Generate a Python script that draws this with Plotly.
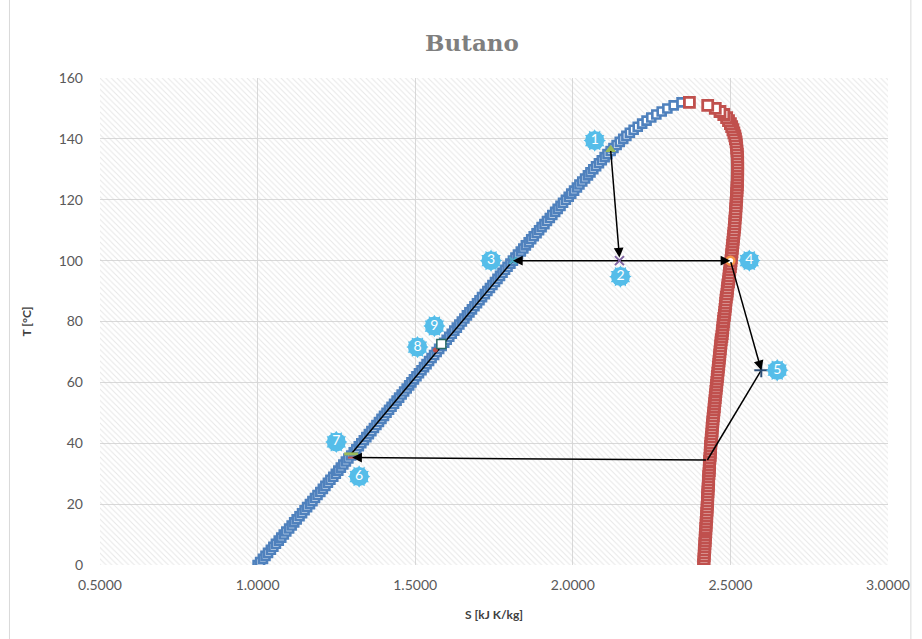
import plotly.graph_objects as go

# ---------------- saturation dome of butane (T in °C, s in kJ/kg K) ----------------
T_SAT = [
    0, 1, 2, 3, 4, 5, 6, 7, 8, 9,
    10, 11, 12, 13, 14, 15, 16, 17, 18, 19,
    20, 21, 22, 23, 24, 25, 26, 27, 28, 29,
    30, 31, 32, 33, 34, 35, 36, 37, 38, 39,
    40, 41, 42, 43, 44, 45, 46, 47, 48, 49,
    50, 51, 52, 53, 54, 55, 56, 57, 58, 59,
    60, 61, 62, 63, 64, 65, 66, 67, 68, 69,
    70, 71, 72, 73, 74, 75, 76, 77, 78, 79,
    80, 81, 82, 83, 84, 85, 86, 87, 88, 89,
    90, 91, 92, 93, 94, 95, 96, 97, 98, 99,
    100, 101, 102, 103, 104, 105, 106, 107, 108, 109,
    110, 111, 112, 113, 114, 115, 116, 117, 118, 119,
    120, 121, 122, 123, 124, 125, 126, 127, 128, 129,
    130, 131, 132, 133, 134, 135, 136, 137, 138, 139,
    140, 141, 142, 143, 144, 145, 146, 147, 148, 149,
    150, 151, 152,
]

S_LIQ = [
    1.000, 1.008, 1.017, 1.025, 1.033, 1.042, 1.050, 1.058, 1.067, 1.075,
    1.083, 1.091, 1.100, 1.108, 1.116, 1.124, 1.133, 1.141, 1.149, 1.157,
    1.166, 1.174, 1.182, 1.190, 1.199, 1.207, 1.215, 1.223, 1.231, 1.240,
    1.248, 1.256, 1.264, 1.272, 1.280, 1.288, 1.297, 1.305, 1.313, 1.321,
    1.329, 1.337, 1.345, 1.353, 1.361, 1.369, 1.377, 1.385, 1.393, 1.401,
    1.409, 1.417, 1.425, 1.433, 1.441, 1.449, 1.457, 1.465, 1.473, 1.481,
    1.488, 1.496, 1.504, 1.512, 1.520, 1.528, 1.536, 1.544, 1.552, 1.560,
    1.568, 1.576, 1.584, 1.592, 1.600, 1.608, 1.616, 1.624, 1.632, 1.640,
    1.648, 1.656, 1.664, 1.672, 1.680, 1.688, 1.696, 1.704, 1.712, 1.721,
    1.729, 1.737, 1.745, 1.753, 1.761, 1.769, 1.777, 1.785, 1.793, 1.802,
    1.810, 1.818, 1.826, 1.835, 1.843, 1.851, 1.860, 1.868, 1.876, 1.885,
    1.893, 1.901, 1.910, 1.918, 1.927, 1.935, 1.944, 1.952, 1.961, 1.969,
    1.978, 1.987, 1.995, 2.004, 2.013, 2.021, 2.030, 2.039, 2.048, 2.056,
    2.065, 2.074, 2.083, 2.092, 2.101, 2.110, 2.120, 2.129, 2.139, 2.149,
    2.160, 2.170, 2.181, 2.193, 2.206, 2.220, 2.234, 2.249, 2.265, 2.282,
    2.300, 2.320, 2.345,
]

S_VAP = [
    2.415, 2.416, 2.416, 2.417, 2.417, 2.418, 2.419, 2.419, 2.420, 2.420,
    2.421, 2.422, 2.422, 2.423, 2.423, 2.424, 2.425, 2.425, 2.426, 2.426,
    2.427, 2.427, 2.428, 2.428, 2.429, 2.429, 2.430, 2.430, 2.431, 2.431,
    2.432, 2.433, 2.433, 2.434, 2.434, 2.435, 2.436, 2.436, 2.437, 2.437,
    2.438, 2.439, 2.440, 2.441, 2.442, 2.442, 2.443, 2.444, 2.445, 2.446,
    2.447, 2.448, 2.449, 2.450, 2.451, 2.452, 2.453, 2.454, 2.455, 2.456,
    2.457, 2.458, 2.459, 2.460, 2.461, 2.462, 2.463, 2.464, 2.465, 2.466,
    2.467, 2.468, 2.469, 2.470, 2.471, 2.473, 2.474, 2.475, 2.476, 2.477,
    2.478, 2.479, 2.481, 2.482, 2.483, 2.484, 2.485, 2.486, 2.487, 2.489,
    2.490, 2.491, 2.492, 2.494, 2.495, 2.496, 2.497, 2.498, 2.500, 2.501,
    2.502, 2.503, 2.504, 2.505, 2.506, 2.507, 2.508, 2.509, 2.510, 2.511,
    2.512, 2.513, 2.514, 2.514, 2.515, 2.516, 2.517, 2.517, 2.518, 2.518,
    2.519, 2.520, 2.520, 2.521, 2.521, 2.522, 2.522, 2.522, 2.523, 2.523,
    2.523, 2.523, 2.523, 2.523, 2.522, 2.522, 2.521, 2.520, 2.519, 2.518,
    2.516, 2.514, 2.511, 2.508, 2.504, 2.500, 2.494, 2.488, 2.479, 2.467,
    2.452, 2.428, 2.370,
]

# ---------------- cycle state points ----------------
STATE_LABELS = ["1", "2", "3", "4", "5", "6", "7", "8", "9"]
STATE_S = [2.120, 2.148, 1.810, 2.500, 2.598, 1.300, 1.297, 1.564, 1.583]
STATE_T = [136.5, 100.0, 100.0, 100.0, 64.0, 35.3, 36.5, 70.6, 72.6]

# condenser inlet corner (on the vapour line, between 5 and 6)
CORNER_S = 2.427
CORNER_T = 34.5

# axes
X_RANGE = [0.5, 3.0]
Y_RANGE = [0, 160]
X_TICKS = [0.5, 1.0, 1.5, 2.0, 2.5, 3.0]
Y_TICKS = [0, 20, 40, 60, 80, 100, 120, 140, 160]

# figure geometry
W, H = 922, 639
ML, MR, MT, MB = 100, 30, 78, 74
PX_X = (W - ML - MR) / (X_RANGE[1] - X_RANGE[0])
PX_Y = (H - MT - MB) / (Y_RANGE[1] - Y_RANGE[0])

# badge offsets from each state point, in screen pixels (right, down)
BADGE_DX = [-16, 1, -22, 19, 16, 7, -15, -18, -7]
BADGE_DY = [-9, 16, 0, 0, 0, 19, -12, -3, -18]

BLUE = "#4f81bd"
RED = "#c0504d"
BADGE = "#55bde9"
FONT = "Lato, 'Open Sans', sans-serif"

fig = go.Figure()

# hatched plot background
fig.add_trace(go.Scatter(
    x=[X_RANGE[0], X_RANGE[1], X_RANGE[1], X_RANGE[0], X_RANGE[0]],
    y=[Y_RANGE[0], Y_RANGE[0], Y_RANGE[1], Y_RANGE[1], Y_RANGE[0]],
    mode="none", fill="toself", fillcolor="rgba(0,0,0,0)",
    fillpattern=dict(shape="\\", fgcolor="#cfcfcf", size=4, solidity=0.25),
    hoverinfo="skip", showlegend=False,
))

# saturated liquid line
fig.add_trace(go.Scatter(
    x=S_LIQ, y=T_SAT, mode="markers", name="Líquido saturado",
    marker=dict(symbol="square", size=8, color="white",
                line=dict(color=BLUE, width=2.6)),
    showlegend=False,
))
# saturated vapour line
fig.add_trace(go.Scatter(
    x=S_VAP, y=T_SAT, mode="markers", name="Vapor saturado",
    marker=dict(symbol="square", size=10, color="white",
                line=dict(color=RED, width=2.8)),
    showlegend=False,
))

# plain cycle segments (no arrowheads)
fig.add_trace(go.Scatter(
    x=[STATE_S[4], CORNER_S], y=[STATE_T[4], CORNER_T],
    mode="lines", line=dict(color="black", width=1.5),
    hoverinfo="skip", showlegend=False,
))
fig.add_trace(go.Scatter(
    x=[STATE_S[6], STATE_S[2]], y=[STATE_T[6], STATE_T[2]],
    mode="lines", line=dict(color="black", width=1.5),
    hoverinfo="skip", showlegend=False,
))

# state point markers
MARKERS = [
    dict(symbol="triangle-up", size=8, color="#9bbb59", line=dict(color="#9bbb59", width=1)),
    dict(symbol="x-thin", size=9, color="#8064a2", line=dict(color="#8064a2", width=2)),
    dict(symbol="x-thin", size=7, color="#4bacc6", line=dict(color="#4bacc6", width=2)),
    dict(symbol="circle", size=8, color="white", line=dict(color="#f79646", width=2.5)),
    dict(symbol="cross-thin", size=10, color="#2c4d75", line=dict(color="#2c4d75", width=2)),
    dict(symbol="line-ew", size=6, color=RED, line=dict(color=RED, width=2)),
    dict(symbol="line-ew", size=10, color="#9bbb59", line=dict(color="#9bbb59", width=3)),
    dict(symbol="circle", size=4, color=RED, line=dict(color=RED, width=1)),
    dict(symbol="square", size=9, color="white", line=dict(color="#2a6b67", width=1.5)),
]
for i, m in enumerate(MARKERS):
    fig.add_trace(go.Scatter(
        x=[STATE_S[i]], y=[STATE_T[i]], mode="markers", marker=m,
        name="Punto " + STATE_LABELS[i], showlegend=False,
    ))

# numbered badges (scalloped discs)
bx = [s + dx / PX_X for s, dx in zip(STATE_S, BADGE_DX)]
by = [t - dy / PX_Y for t, dy in zip(STATE_T, BADGE_DY)]
for ang in (0, 30):
    fig.add_trace(go.Scatter(
        x=bx, y=by, mode="markers",
        marker=dict(symbol="hexagram", size=17, angle=ang, color=BADGE, line=dict(width=0)),
        hoverinfo="skip", showlegend=False,
    ))
fig.add_trace(go.Scatter(
    x=bx, y=by, mode="markers+text", text=STATE_LABELS,
    textposition="middle center",
    textfont=dict(family=FONT, size=14, color="white"),
    marker=dict(symbol="circle", size=19, color=BADGE, line=dict(width=0)),
    hoverinfo="skip", showlegend=False,
))

# arrowed cycle segments
def arrow(x0, y0, x1, y1):
    fig.add_annotation(
        x=x1, y=y1, ax=x0, ay=y0, xref="x", yref="y", axref="x", ayref="y",
        text="", showarrow=True, arrowhead=2, arrowsize=1.3, arrowwidth=1.5,
        arrowcolor="black", standoff=0,
    )

arrow(STATE_S[0], STATE_T[0], STATE_S[1], STATE_T[1] + 1.0)
arrow(STATE_S[1], STATE_T[1], STATE_S[2], STATE_T[2])
arrow(STATE_S[1], STATE_T[1], STATE_S[3], STATE_T[3])
arrow(STATE_S[3], STATE_T[3], STATE_S[4], STATE_T[4])
arrow(CORNER_S, CORNER_T, STATE_S[5], STATE_T[5])

# light chart-area border
fig.add_shape(
    type="rect", xref="paper", yref="paper",
    x0=(9 - ML) / (W - ML - MR), x1=(915 - ML) / (W - ML - MR),
    y0=-(MB + 10) / (H - MT - MB), y1=1 + (MT + 10) / (H - MT - MB),
    line=dict(color="#d9d9d9", width=1), layer="below",
)

fig.update_layout(
    width=W, height=H,
    margin=dict(l=ML, r=MR, t=MT, b=MB),
    paper_bgcolor="white", plot_bgcolor="white",
    font=dict(family=FONT, color="#595959", size=14),
    title=dict(
        text="<b>Butano</b>", x=472 / W, xanchor="center", y=1 - 43 / H, yanchor="middle",
        xref="container", yref="container",
        font=dict(family="'DejaVu Serif', serif", size=23, color="#7f7f7f"),
    ),
    showlegend=False,
)
fig.update_xaxes(
    range=X_RANGE, tickvals=X_TICKS, tickformat=".4f",
    showgrid=True, gridcolor="#d9d9d9", gridwidth=1, zeroline=False, showline=False,
    ticks="", ticklabelstandoff=10, tickfont=dict(size=14, color="#595959"),
    title=dict(text="<b>S [kJ K/kg]</b>", font=dict(size=12, color="#404040"), standoff=18),
)
fig.update_yaxes(
    range=Y_RANGE, tickvals=Y_TICKS,
    showgrid=True, gridcolor="#d9d9d9", gridwidth=1, zeroline=False, showline=False,
    ticks="", ticklabelstandoff=16, tickfont=dict(size=14, color="#595959"),
    title=dict(text="<b>T [°C]</b>", font=dict(size=12, color="#404040"), standoff=24),
)

fig.write_html("out.html")
